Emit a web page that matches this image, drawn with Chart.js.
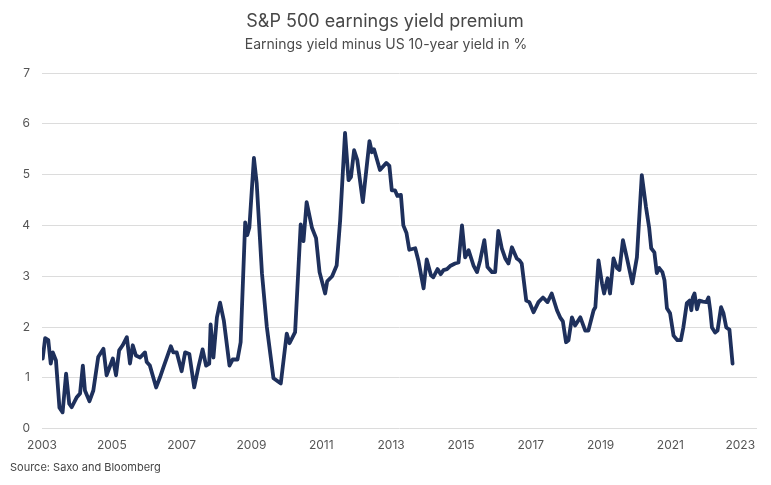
<!DOCTYPE html>
<html>
<head>
<meta charset="utf-8">
<script src="https://cdn.jsdelivr.net/npm/chart.js@4.4.1/dist/chart.umd.min.js"></script>
<style>
  html, body { margin: 0; padding: 0; background: #fff; }
  #wrap { width: 771px; height: 485px; position: relative; }
</style>
</head>
<body>
<div id="wrap"><canvas id="chart"></canvas></div>
<script>
// decimal year of each reading (roughly monthly)
const years = [
  2003.02, 2003.09, 2003.18, 2003.25, 2003.31, 2003.40, 2003.50, 2003.59, 2003.69, 2003.78, 2003.85, 2003.99,
  2004.09, 2004.17, 2004.23, 2004.36, 2004.47, 2004.61, 2004.76, 2004.85,
  2005.03, 2005.12, 2005.21, 2005.31, 2005.43, 2005.52, 2005.60, 2005.69, 2005.81, 2005.95,
  2006.00, 2006.09, 2006.27, 2006.38, 2006.48, 2006.69, 2006.76, 2006.86,
  2007.00, 2007.10, 2007.22, 2007.36, 2007.48, 2007.60, 2007.70, 2007.79, 2007.83, 2007.91,
  2008.01, 2008.10, 2008.21, 2008.37, 2008.46, 2008.60, 2008.69, 2008.82, 2008.88, 2008.94,
  2009.07, 2009.15, 2009.30, 2009.44, 2009.63, 2009.84,
  2010.01, 2010.09, 2010.25, 2010.41, 2010.49, 2010.58, 2010.73, 2010.85, 2010.95,
  2011.11, 2011.17, 2011.31, 2011.44, 2011.54, 2011.68, 2011.78, 2011.85, 2011.94,
  2012.03, 2012.19, 2012.38, 2012.45, 2012.51, 2012.68, 2012.86, 2012.95,
  2013.02, 2013.11, 2013.18, 2013.28, 2013.35, 2013.44, 2013.52, 2013.69, 2013.78, 2013.93,
  2014.02, 2014.14, 2014.21, 2014.33, 2014.42, 2014.50, 2014.60, 2014.69, 2014.83, 2014.93,
  2015.03, 2015.12, 2015.22, 2015.36, 2015.46, 2015.55, 2015.67, 2015.76, 2015.89, 2015.98,
  2016.07, 2016.17, 2016.27, 2016.36, 2016.46, 2016.60, 2016.68, 2016.74, 2016.87, 2016.96,
  2017.08, 2017.22, 2017.35, 2017.48, 2017.60, 2017.75, 2017.84, 2017.92,
  2018.01, 2018.08, 2018.18, 2018.27, 2018.42, 2018.56, 2018.65, 2018.80, 2018.85, 2018.94,
  2019.04, 2019.10, 2019.20, 2019.27, 2019.37, 2019.47, 2019.54, 2019.64, 2019.75, 2019.91,
  2020.04, 2020.18, 2020.30, 2020.39, 2020.45, 2020.54, 2020.61, 2020.68, 2020.77, 2020.83, 2020.90, 2020.99,
  2021.09, 2021.20, 2021.30, 2021.37, 2021.47, 2021.55, 2021.60, 2021.64, 2021.69, 2021.76, 2021.83, 2021.93,
  2022.03, 2022.09, 2022.14, 2022.19, 2022.28, 2022.35, 2022.45, 2022.52, 2022.60, 2022.69, 2022.78
];
// earnings yield minus US 10y yield, %
const premium = [
  1.38, 1.78, 1.74, 1.28, 1.50, 1.34, 0.41, 0.32, 1.08, 0.49, 0.42, 0.61,
  0.69, 1.24, 0.75, 0.54, 0.75, 1.41, 1.57, 1.05,
  1.38, 1.05, 1.54, 1.64, 1.80, 1.28, 1.64, 1.44, 1.40, 1.50,
  1.31, 1.24, 0.81, 1.01, 1.21, 1.62, 1.50, 1.50,
  1.13, 1.50, 1.47, 0.81, 1.21, 1.56, 1.24, 1.28, 2.05, 1.40,
  2.19, 2.48, 2.12, 1.24, 1.36, 1.36, 1.70, 4.06, 3.81, 3.96,
  5.33, 4.83, 3.06, 2.00, 0.99, 0.89,
  1.87, 1.68, 1.90, 4.02, 3.69, 4.46, 3.96, 3.75, 3.08,
  2.66, 2.90, 3.00, 3.21, 4.10, 5.82, 4.89, 4.95, 5.48,
  5.29, 4.46, 5.66, 5.44, 5.50, 5.09, 5.23, 5.17,
  4.69, 4.69, 4.58, 4.60, 4.00, 3.85, 3.52, 3.55, 3.31, 2.76,
  3.33, 3.02, 2.98, 3.14, 3.04, 3.12, 3.14, 3.20, 3.25, 3.27,
  4.00, 3.37, 3.51, 3.21, 3.08, 3.31, 3.71, 3.18, 3.08, 3.08,
  3.89, 3.55, 3.35, 3.25, 3.57, 3.35, 3.31, 3.25, 2.52, 2.49,
  2.29, 2.49, 2.58, 2.49, 2.66, 2.33, 2.19, 2.11,
  1.70, 1.74, 2.19, 2.03, 2.19, 1.93, 1.93, 2.33, 2.39, 3.31,
  2.86, 2.66, 2.96, 2.66, 3.35, 3.16, 3.12, 3.71, 3.37, 2.86,
  3.37, 4.99, 4.36, 3.96, 3.55, 3.47, 3.06, 3.16, 3.08, 2.92, 2.37, 2.27,
  1.83, 1.74, 1.74, 1.99, 2.47, 2.52, 2.33, 2.58, 2.66, 2.35, 2.52, 2.50,
  2.49, 2.58, 2.33, 1.99, 1.89, 1.93, 2.39, 2.27, 1.99, 1.95, 1.28
];
const xTicks = [2003, 2005, 2007, 2009, 2011, 2013, 2015, 2017, 2019, 2021, 2023];
const yTicks = [0, 1, 2, 3, 4, 5, 6, 7];

const titleText = 'S&P 500 earnings yield premium';
const subtitleText = 'Earnings yield minus US 10-year yield in %';
const sourceText = 'Source: Saxo and Bloomberg';

const FONT = 'Inter, "Noto Sans", sans-serif';

const texts = {
  id: 'texts',
  afterDraw(chart) {
    const c = chart.ctx;
    c.save();
    c.textAlign = 'center';
    c.textBaseline = 'middle';
    c.fillStyle = '#474747';
    c.font = '18px ' + FONT;
    c.fillText(titleText, 385, 22);
    c.fillStyle = '#4a4a4a';
    c.font = '14px ' + FONT;
    c.fillText(subtitleText, 386, 45);
    c.textAlign = 'left';
    c.font = '11px ' + FONT;
    c.fillStyle = '#444';
    c.fillText(sourceText, 10, 468);
    c.restore();
  }
};

const points = years.map((x, i) => ({ x, y: premium[i] }));

new Chart(document.getElementById('chart'), {
  type: 'line',
  data: {
    datasets: [{
      data: points,
      borderColor: '#1e305c',
      borderWidth: 3.8,
      pointRadius: 0,
      tension: 0,
      borderJoinStyle: 'round',
      borderCapStyle: 'round'
    }]
  },
  options: {
    responsive: true,
    maintainAspectRatio: false,
    animation: false,
    layout: { padding: { top: 73, right: 14, bottom: 22, left: 0 } },
    plugins: {
      legend: { display: false },
      tooltip: { enabled: false }
    },
    scales: {
      x: {
        type: 'linear',
        min: 2003,
        max: 2023.48,
        afterBuildTicks: (s) => { s.ticks = xTicks.map(v => ({ value: v })); },
        grid: { display: false, drawTicks: false },
        border: { display: false },
        ticks: {
          padding: 10,
          maxRotation: 0,
          autoSkip: false,
          color: '#555',
          font: { family: FONT, size: 12 },
          callback: (v) => String(v)
        }
      },
      y: {
        min: 0,
        max: 7,
        afterBuildTicks: (s) => { s.ticks = yTicks.map(v => ({ value: v })); },
        afterFit: (s) => { s.width = 42; },
        grid: { color: '#dcdcdc', lineWidth: 1, drawTicks: false },
        border: { display: false },
        ticks: {
          padding: 12,
          color: '#555',
          font: { family: FONT, size: 12 }
        }
      }
    }
  },
  plugins: [texts]
});
</script>
</body>
</html>
